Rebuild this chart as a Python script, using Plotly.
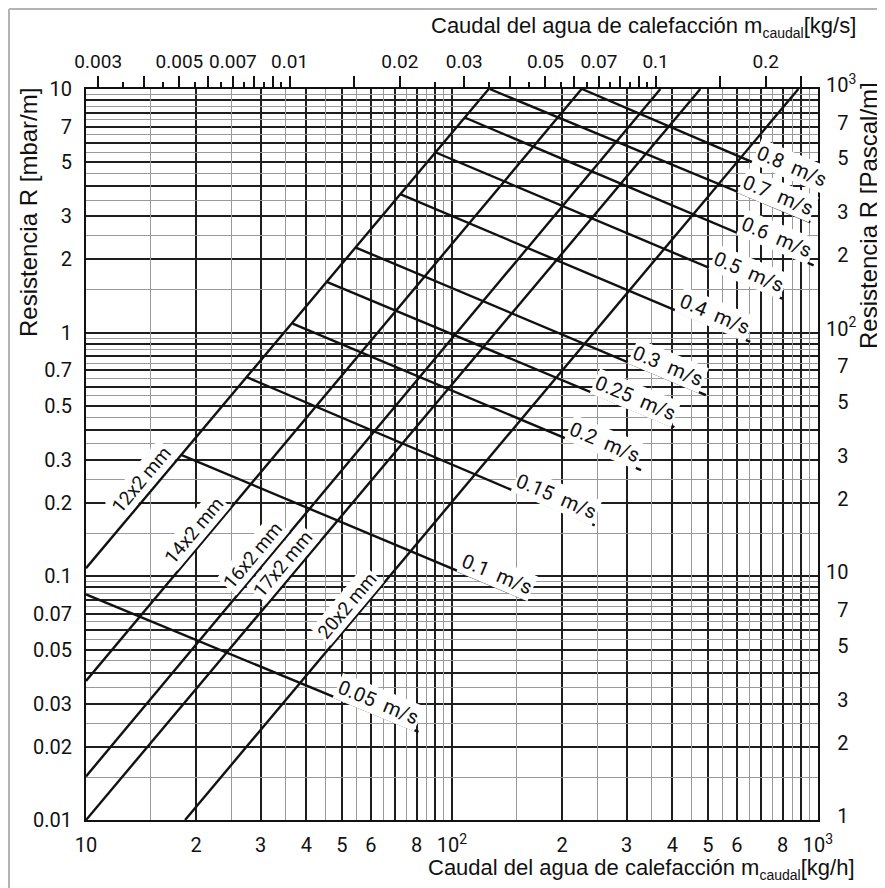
import math
import plotly.graph_objects as go

# ---------------- data ----------------
# pipe lines (mass flow kg/h, resistance mbar/m)
PIPE_LABELS = ["12x2 mm", "14x2 mm", "16x2 mm", "17x2 mm", "20x2 mm"]
PIPE_X0 = [10, 10, 10, 10, 18.65]
PIPE_Y0 = [0.108, 0.0372, 0.0151, 0.01, 0.01]
PIPE_X1 = [126.0, 226.0, 371.0, 477.0, 884.0]
PIPE_Y1 = [10, 10, 10, 10, 10]
PIPE_LABEL_X = [15.2, 21.1, 30.5, 37.0, 55.3]

# velocity lines
VEL_LABELS = ["0.8", "0.7", "0.6", "0.5", "0.4", "0.3", "0.25", "0.2", "0.15", "0.1", "0.05"]
VEL_X0 = [226.5, 126.7, 108.7, 90.0, 72.2, 54.4, 45.3, 36.7, 27.4, 18.2, 10]
VEL_Y0 = [10, 10, 7.62, 5.50, 3.70, 2.24, 1.62, 1.09, 0.658, 0.315, 0.0843]
VEL_X1 = [1000, 953, 973, 798, 653, 494, 405, 328.5, 245.4, 160.5, 81.0]
VEL_Y1 = [3.84, 2.845, 1.890, 1.380, 0.916, 0.554, 0.410, 0.273, 0.162, 0.0799, 0.0230]
VEL_LABEL_X = [822, 754, 749, 631, 507, 379, 309, 254, 187, 129, 61]

# bottom axis (kg/h)
X_LABEL_VALS = [10, 20, 30, 40, 50, 60, 80, 100, 200, 300, 400, 500, 600, 800, 1000]
X_LABEL_TEXT = ["10", "2", "3", "4", "5", "6", "8", "10<sup>2</sup>",
                "2", "3", "4", "5", "6", "8", "10<sup>3</sup>"]
X_UNLABELED = [70, 90, 700, 900]
X_HALF = [15, 25, 35, 45, 55, 65, 75, 85, 95,
          150, 250, 350, 450, 550, 650, 750, 850, 950]

# left axis (mbar/m)
Y_LABEL_VALS = [0.01, 0.02, 0.03, 0.05, 0.07, 0.1, 0.2, 0.3, 0.5, 0.7,
                1, 2, 3, 5, 7, 10]
Y_LABEL_TEXT = ["0.01", "0.02", "0.03", "0.05", "0.07", "0.1", "0.2", "0.3",
                "0.5", "0.7", "1", "2", "3", "5", "7", "10"]
Y_UNLABELED = [0.04, 0.06, 0.08, 0.09, 0.4, 0.6, 0.8, 0.9, 4, 6, 8, 9]
Y_HALF = [0.015, 0.025, 0.035, 0.045, 0.055, 0.065, 0.075, 0.085, 0.095,
          0.15, 0.25, 0.35, 0.45, 0.55, 0.65, 0.75, 0.85, 0.95,
          1.5, 2.5, 3.5, 4.5, 5.5, 6.5, 7.5, 8.5, 9.5]

# right axis (Pascal/m)
FS = "\u2007"
PA_TICKS = [1, 2, 3, 5, 7, 10, 20, 30, 50, 70, 100, 200, 300, 500, 700, 1000]
PA_TICKTEXT = [FS + "1", FS + "2", FS + "3", FS + "5", FS + "7", "10",
               FS + "2", FS + "3", FS + "5", FS + "7", "10<sup>2</sup>",
               FS + "2", FS + "3", FS + "5", FS + "7", "10<sup>3</sup>"]

# top axis (kg/s)
TOP_LABEL_VALS = [0.003, 0.005, 0.007, 0.01, 0.02, 0.03, 0.05, 0.07, 0.1, 0.2]
TOP_LABEL_TEXT = ["0.003", "0.005", "0.007", "0.01", "0.02", "0.03",
                  "0.05", "0.07", "0.1", "0.2"]
TOP_LONG_UNLABELED = [0.004, 0.006, 0.008, 0.009, 0.015, 0.04, 0.06, 0.08,
                      0.09, 0.15, 0.25]
TOP_SHORT = [0.0035, 0.0045, 0.0055, 0.0065, 0.0075, 0.0085, 0.0095,
             0.025, 0.035, 0.045, 0.055, 0.065, 0.075, 0.085, 0.095]

KGH_PER_KGS = 3600.0
PA_PER_MBAR = 100.0
X_RANGE = [10, 1000]
Y_RANGE = [0.01, 10]

# ---------------- layout geometry / style ----------------
PAGE_OFFSET = 8          # default body margin of the html page
PAGE_W, PAGE_H = 885, 888
W, H = PAGE_W - PAGE_OFFSET, PAGE_H - PAGE_OFFSET
ML, MR, MT, MB = 86 - PAGE_OFFSET, 67, 89 - PAGE_OFFSET, 68
PW, PH = W - ML - MR, H - MT - MB
PX_DEC_X = PW / (math.log10(X_RANGE[1]) - math.log10(X_RANGE[0]))
PX_DEC_Y = PH / (math.log10(Y_RANGE[1]) - math.log10(Y_RANGE[0]))
RATIO = PX_DEC_Y / PX_DEC_X

TICK_FONT = "Roboto, DejaVu Sans, sans-serif"
TITLE_FONT = "Liberation Sans, Arial, Helvetica, sans-serif"
INK = "#111111"

fig = go.Figure()

for x0, y0, x1, y1 in zip(PIPE_X0, PIPE_Y0, PIPE_X1, PIPE_Y1):
    fig.add_trace(go.Scatter(x=[x0, x1], y=[y0, y1], mode="lines",
                             line=dict(color=INK, width=2.4),
                             hoverinfo="skip", showlegend=False))
for x0, y0, x1, y1 in zip(VEL_X0, VEL_Y0, VEL_X1, VEL_Y1):
    fig.add_trace(go.Scatter(x=[x0, x1], y=[y0, y1], mode="lines",
                             line=dict(color=INK, width=2.4),
                             hoverinfo="skip", showlegend=False))

# invisible traces so that the secondary axes are drawn
for xa, ya, xv, yv in [("x2", "y", 0.05, 1), ("x3", "y", 100, 1), ("x4", "y", 0.05, 1),
                       ("x", "y2", 100, 100), ("x", "y3", 100, 1)]:
    fig.add_trace(go.Scatter(x=[xv], y=[yv], xaxis=xa, yaxis=ya, mode="markers",
                             marker=dict(opacity=0), hoverinfo="skip", showlegend=False))


def point_on_line(x0, y0, x1, y1, xl):
    lx0, ly0, lx1, ly1 = map(math.log10, (x0, y0, x1, y1))
    t = (math.log10(xl) - lx0) / (lx1 - lx0)
    slope = (ly1 - ly0) / (lx1 - lx0)
    return math.log10(xl), ly0 + t * (ly1 - ly0), slope


annotations = []
# velocity labels
for lab, x0, y0, x1, y1, xl in zip(VEL_LABELS, VEL_X0, VEL_Y0, VEL_X1, VEL_Y1, VEL_LABEL_X):
    ax, ay, s = point_on_line(x0, y0, x1, y1, xl)
    th = math.atan(-s * RATIO)
    d = 12
    annotations.append(dict(
        x=ax, y=ay, xref="x", yref="y", showarrow=False,
        text=lab + "\u00a0\u00a0m/s", textangle=math.degrees(th),
        xanchor="center", yanchor="middle",
        xshift=d * math.sin(th), yshift=d * math.cos(th),
        font=dict(family=TICK_FONT, size=20, color=INK),
        bgcolor="white", borderpad=1))
# pipe labels
for lab, x0, y0, x1, y1, xl in zip(PIPE_LABELS, PIPE_X0, PIPE_Y0, PIPE_X1, PIPE_Y1, PIPE_LABEL_X):
    ax, ay, s = point_on_line(x0, y0, x1, y1, xl)
    ph = math.atan(s * RATIO)
    d = 14
    annotations.append(dict(
        x=ax, y=ay, xref="x", yref="y", showarrow=False,
        text=lab, textangle=-math.degrees(ph),
        xanchor="center", yanchor="middle",
        xshift=-d * math.sin(ph), yshift=d * math.cos(ph),
        font=dict(family=TICK_FONT, size=19, color=INK),
        bgcolor="white", borderpad=1))


def page_x(px):
    return (px - PAGE_OFFSET - ML) / PW


def page_y(py):
    return (PAGE_OFFSET + MT + PH - py) / PH


SUB = "<sub><span style='font-size:14px'>caudal</span></sub>"
title_font = dict(family=TITLE_FONT, size=22, color=INK)
annotations += [
    dict(text="Caudal del agua de calefacción m" + SUB + "[kg/s]",
         x=page_x(858), y=page_y(27), xref="paper", yref="paper",
         xanchor="right", yanchor="middle", showarrow=False, font=title_font),
    dict(text="Caudal del agua de calefacción m" + SUB + "[kg/h]",
         x=page_x(857), y=page_y(869), xref="paper", yref="paper",
         xanchor="right", yanchor="middle", showarrow=False, font=title_font),
    dict(text="Resistencia R [mbar/m]", textangle=-90,
         x=page_x(28), y=page_y(213), xref="paper", yref="paper",
         xanchor="center", yanchor="middle", showarrow=False,
         font=dict(family=TITLE_FONT, size=24, color=INK)),
    dict(text="Resistencia R [Pascal/m]", textangle=-90,
         x=page_x(869), y=page_y(216), xref="paper", yref="paper",
         xanchor="center", yanchor="middle", showarrow=False,
         font=dict(family=TITLE_FONT, size=24, color=INK)),
]

# light frame around the picture
shapes = [
    dict(type="line", xref="paper", yref="paper",
         x0=page_x(9), x1=page_x(9), y0=page_y(9), y1=page_y(900),
         line=dict(color="#b4b4b4", width=2)),
    dict(type="line", xref="paper", yref="paper",
         x0=page_x(9), x1=page_x(900), y0=page_y(9), y1=page_y(9),
         line=dict(color="#b4b4b4", width=2)),
]

tick_font = dict(family=TICK_FONT, size=20, color=INK)
GRID_MAJOR = "#1e1e1e"
GRID_MINOR = "#9a9a9a"
XR = [math.log10(X_RANGE[0]), math.log10(X_RANGE[1])]
YR = [math.log10(Y_RANGE[0]), math.log10(Y_RANGE[1])]
TOPR = [math.log10(X_RANGE[0] / KGH_PER_KGS), math.log10(X_RANGE[1] / KGH_PER_KGS)]

fig.update_layout(
    width=W, height=H,
    margin=dict(l=ML, r=MR, t=MT, b=MB, pad=0),
    paper_bgcolor="white", plot_bgcolor="white",
    showlegend=False, hovermode=False,
    annotations=annotations, shapes=shapes,
    xaxis=dict(
        type="log", range=XR, automargin=False, tickangle=0,
        tickmode="array", tickvals=X_LABEL_VALS, ticktext=X_LABEL_TEXT,
        ticks="outside", ticklen=6, tickcolor="rgba(0,0,0,0)",
        showgrid=True, gridcolor=GRID_MAJOR, gridwidth=1.6,
        minor=dict(tickmode="array", tickvals=X_UNLABELED, showgrid=True,
                   gridcolor=GRID_MAJOR, gridwidth=1.6, ticks=""),
        showline=True, linecolor=INK, linewidth=2, mirror=True,
        zeroline=False, tickfont=tick_font, fixedrange=True),
    xaxis3=dict(
        type="log", range=XR, overlaying="x", anchor="y", side="bottom",
        automargin=False, tickmode="array", tickvals=X_HALF,
        showticklabels=False, ticks="", showgrid=True,
        gridcolor=GRID_MINOR, gridwidth=1.4, showline=False, zeroline=False,
        fixedrange=True),
    yaxis=dict(
        type="log", range=YR, automargin=False, tickangle=0,
        tickmode="array", tickvals=Y_LABEL_VALS, ticktext=Y_LABEL_TEXT,
        ticks="outside", ticklen=8, tickcolor="rgba(0,0,0,0)",
        showgrid=True, gridcolor=GRID_MAJOR, gridwidth=1.6,
        minor=dict(tickmode="array", tickvals=Y_UNLABELED, showgrid=True,
                   gridcolor=GRID_MAJOR, gridwidth=1.6, ticks=""),
        showline=True, linecolor=INK, linewidth=2, mirror=True,
        zeroline=False, tickfont=tick_font, fixedrange=True),
    yaxis3=dict(
        type="log", range=YR, overlaying="y", anchor="x", side="left",
        automargin=False, tickmode="array", tickvals=Y_HALF,
        showticklabels=False, ticks="", showgrid=True,
        gridcolor=GRID_MINOR, gridwidth=1.4, showline=False, zeroline=False,
        fixedrange=True),
    xaxis2=dict(
        type="log", overlaying="x", side="top", anchor="y", range=TOPR,
        automargin=False, tickangle=0,
        tickmode="array", tickvals=TOP_LABEL_VALS, ticktext=TOP_LABEL_TEXT,
        ticks="outside", ticklen=12, tickwidth=1.5, tickcolor=INK,
        minor=dict(tickmode="array", tickvals=TOP_LONG_UNLABELED, ticks="outside",
                   ticklen=12, tickwidth=1.5, tickcolor=INK, showgrid=False),
        showgrid=False, showline=False, zeroline=False,
        tickfont=dict(family=TICK_FONT, size=19, color=INK), fixedrange=True),
    xaxis4=dict(
        type="log", overlaying="x", side="top", anchor="y", range=TOPR,
        automargin=False, tickmode="array", tickvals=TOP_SHORT,
        showticklabels=False, ticks="outside", ticklen=6, tickwidth=1.5,
        tickcolor=INK, showgrid=False, showline=False, zeroline=False,
        fixedrange=True),
    yaxis2=dict(
        type="log", overlaying="y", side="right", anchor="x",
        range=[math.log10(Y_RANGE[0] * PA_PER_MBAR), math.log10(Y_RANGE[1] * PA_PER_MBAR)],
        automargin=False, tickangle=0,
        tickmode="array", tickvals=PA_TICKS, ticktext=PA_TICKTEXT,
        ticks="outside", ticklen=3, tickcolor="rgba(0,0,0,0)",
        ticklabelshift=-4,
        showgrid=False, showline=False, zeroline=False,
        tickfont=tick_font, fixedrange=True),
)

fig.write_html("out.html")
